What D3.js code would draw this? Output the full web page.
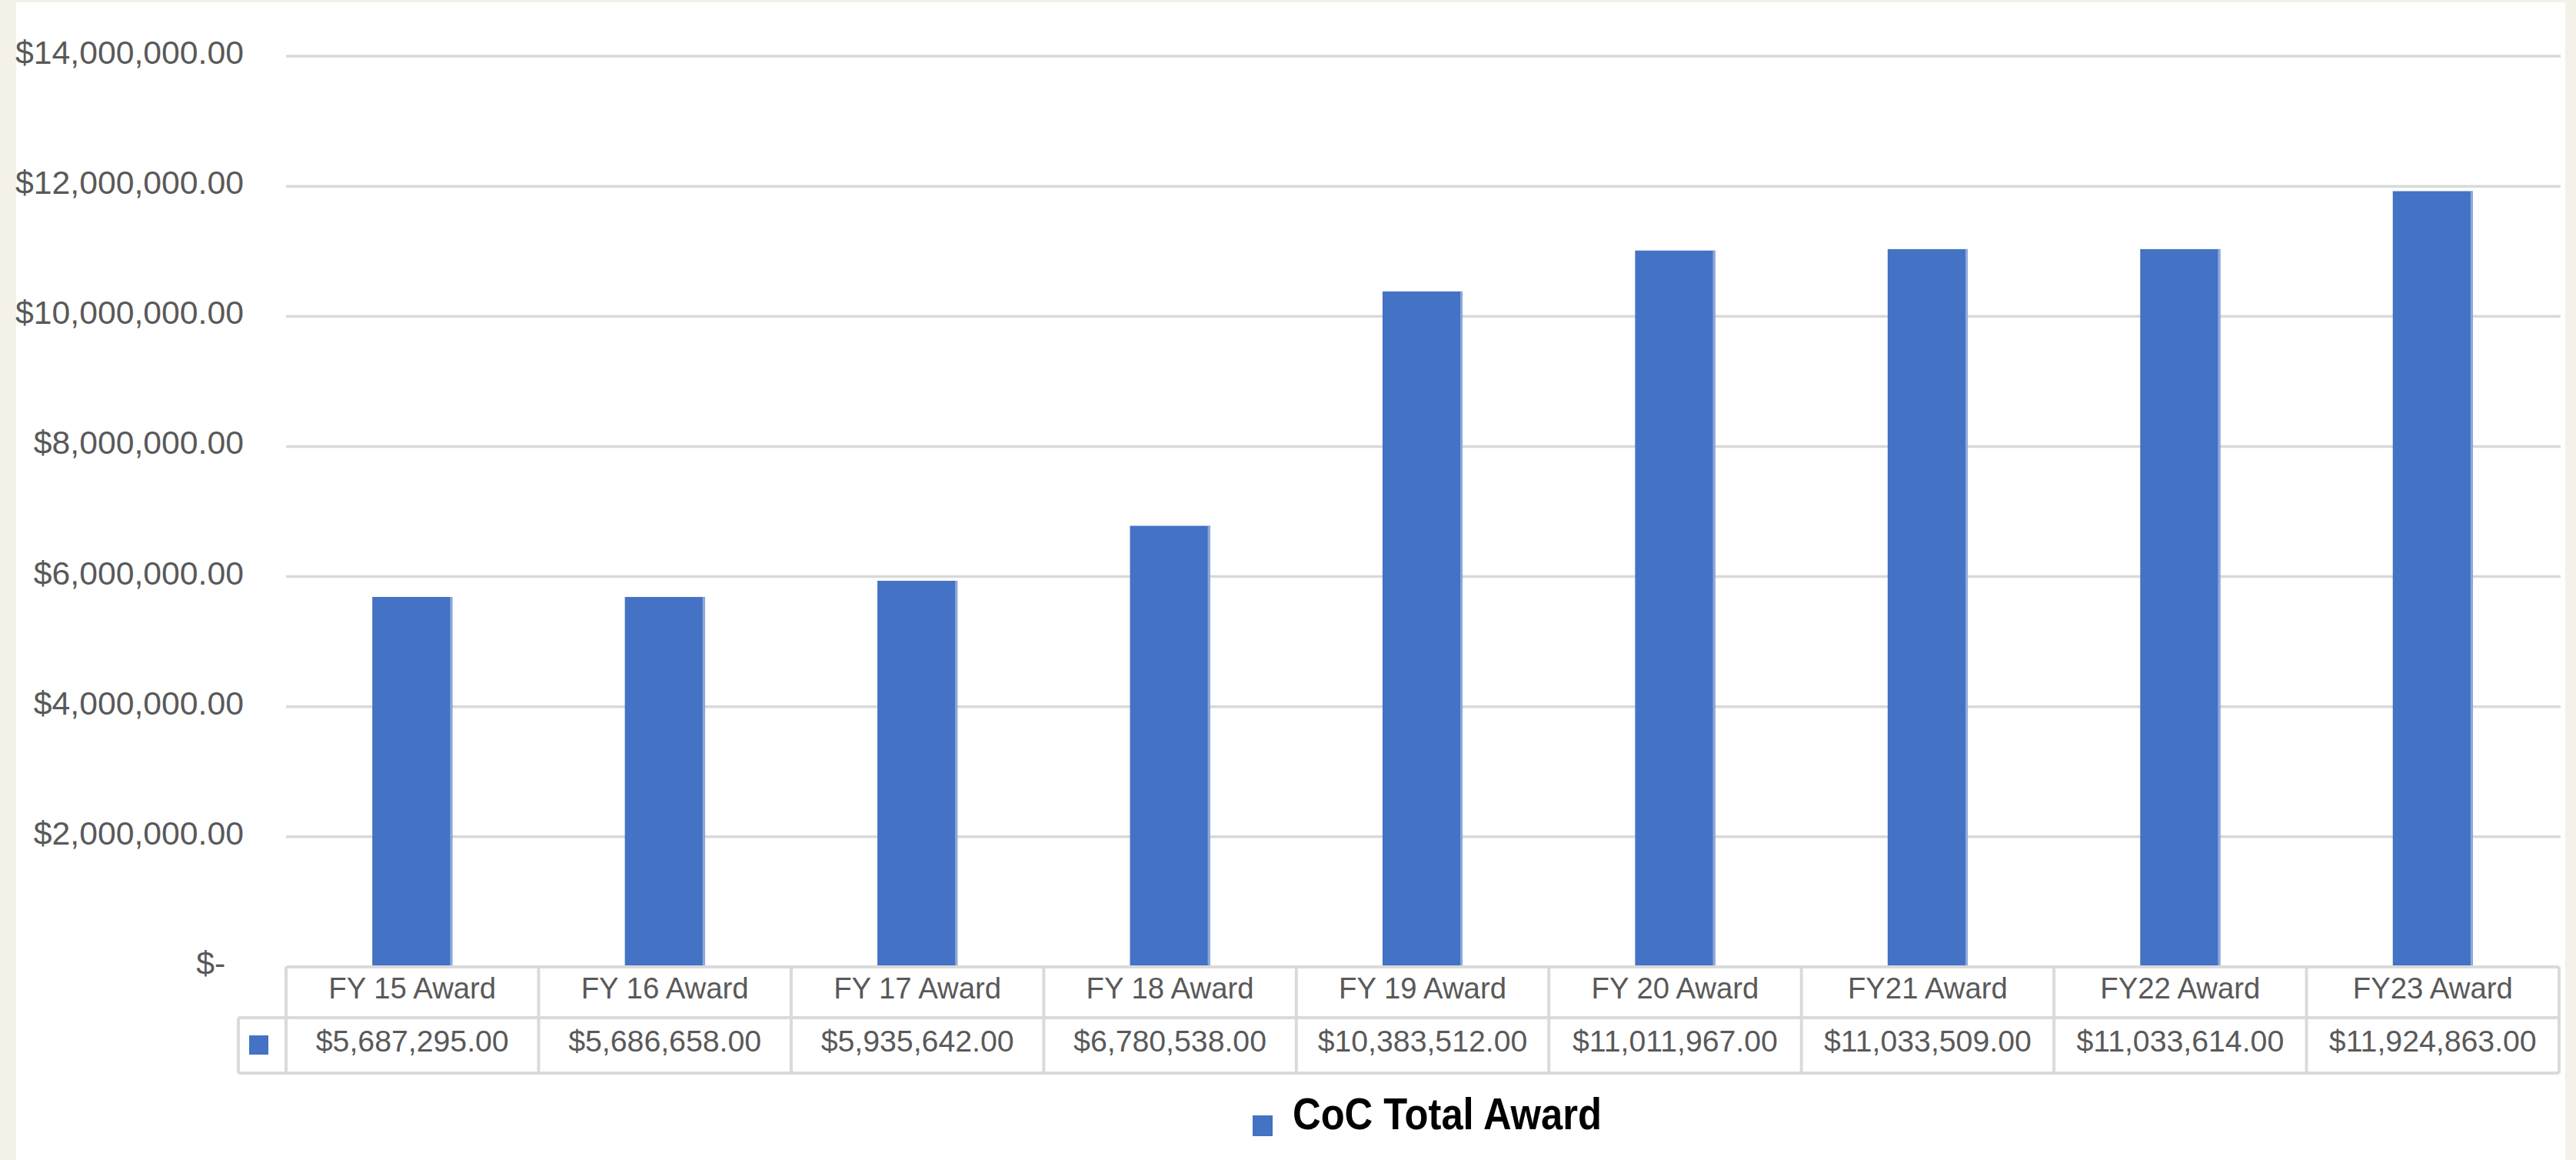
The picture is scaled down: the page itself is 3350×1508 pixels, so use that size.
<!DOCTYPE html>
<html>
<head>
<meta charset="utf-8">
<script src="https://cdn.jsdelivr.net/npm/d3@7"></script>
<style>
  html, body { margin: 0; padding: 0; background: #f4f1e9; }
  svg { display: block; }
  text { font-family: "Liberation Sans", Arial, sans-serif; }
</style>
</head>
<body>
<svg id="chart" width="3350" height="1508"></svg>
<script>
// ---- data ----
const categories = ["FY 15 Award", "FY 16 Award", "FY 17 Award", "FY 18 Award", "FY 19 Award",
                    "FY 20 Award", "FY21 Award", "FY22 Award", "FY23 Award"];
const awardValues = [5687295, 5686658, 5935642, 6780538, 10383512, 11011967, 11033509, 11033614, 11924863];
const seriesName = "CoC Total Award";
const yTicks = [0, 2000000, 4000000, 6000000, 8000000, 10000000, 12000000, 14000000];
const yTickLabels = ["$-  ", "$2,000,000.00", "$4,000,000.00", "$6,000,000.00", "$8,000,000.00",
                     "$10,000,000.00", "$12,000,000.00", "$14,000,000.00"];

// ---- layout ----
const W = 3350, H = 1508;
const plotLeft = 372, plotRight = 3328, plotTop = 73, plotBottom = 1257;
const tableRow1 = 1323, tableBottom = 1395, keyLeft = 310;
const barColor = "#4472c4";
const gridColor = "#d9d9d9";
const textColor = "#595959";

const svg = d3.select("#chart");

// helper: font size so that a sample string reaches a target width
function fitSize(sample, target, base, weight) {
  const t = svg.append("text").attr("font-size", base).attr("font-weight", weight || "normal").text(sample);
  const w = t.node().getComputedTextLength();
  t.remove();
  return w > 0 ? base * target / w : base;
}
const axisFont = fitSize("$14,000,000.00", 297, 40);
const headFont = fitSize("FY 15 Award", 218, 39);
const valFont = fitSize("$5,687,295.00", 251, 39);

// background panels
svg.append("rect").attr("x", 0).attr("y", 0).attr("width", W).attr("height", H).attr("fill", "#f4f1e9");
svg.append("rect").attr("x", 21).attr("y", 3).attr("width", 3315).attr("height", H - 3).attr("fill", "#ffffff");

const y = d3.scaleLinear().domain([0, 14000000]).range([plotBottom, plotTop]);
const xCol = d3.scaleBand().domain(categories).range([plotLeft, plotRight]).padding(0);
const xBar = d3.scaleBand().domain(categories).range([plotLeft, plotRight])
  .paddingInner(0.683).paddingOuter(0.3415);

// gridlines (excluding zero, which is the table top)
svg.append("g").selectAll("line").data(yTicks.filter(t => t > 0)).join("line")
  .attr("x1", plotLeft).attr("x2", 3330)
  .attr("y1", d => y(d)).attr("y2", d => y(d))
  .attr("stroke", gridColor).attr("stroke-width", 3.5);

// y-axis labels
svg.append("g").selectAll("text").data(yTicks).join("text")
  .attr("x", 317).attr("y", d => y(d) + 10)
  .attr("text-anchor", "end")
  .style("white-space", "pre")
  .attr("font-size", axisFont).attr("fill", textColor)
  .text((d, i) => yTickLabels[i]);

// bars
svg.append("g").selectAll("rect").data(awardValues).join("rect")
  .attr("x", (d, i) => xBar(categories[i]))
  .attr("y", d => y(d))
  .attr("width", xBar.bandwidth())
  .attr("height", d => y(0) - y(d))
  .attr("fill", barColor);
// subtle light edge on bars
svg.append("g").selectAll("rect").data(awardValues).join("rect")
  .attr("x", (d, i) => xBar(categories[i]) + xBar.bandwidth() - 3)
  .attr("y", d => y(d))
  .attr("width", 3)
  .attr("height", d => y(0) - y(d))
  .attr("fill", "#8eaadb");

// data table
const tbl = svg.append("g").attr("stroke", "#dadada").attr("stroke-width", 4);
tbl.append("line").attr("x1", plotLeft).attr("x2", plotRight).attr("y1", plotBottom).attr("y2", plotBottom);
tbl.append("line").attr("x1", keyLeft).attr("x2", plotRight).attr("y1", tableRow1).attr("y2", tableRow1);
tbl.append("line").attr("x1", keyLeft).attr("x2", plotRight).attr("y1", tableBottom).attr("y2", tableBottom);
tbl.append("line").attr("x1", keyLeft).attr("x2", keyLeft).attr("y1", tableRow1).attr("y2", tableBottom);
const colEdges = categories.map(c => xCol(c)).concat([plotRight]);
tbl.selectAll("line.v").data(colEdges).join("line").attr("class", "v")
  .attr("x1", d => d).attr("x2", d => d).attr("y1", plotBottom).attr("y2", tableBottom);

// header labels
svg.append("g").selectAll("text").data(categories).join("text")
  .attr("x", d => xCol(d) + xCol.bandwidth() / 2).attr("y", 1298)
  .attr("text-anchor", "middle").attr("font-size", headFont).attr("fill", textColor)
  .text(d => d);

// value labels
const fmt = v => "$" + d3.format(",.2f")(v);
svg.append("g").selectAll("text").data(awardValues).join("text")
  .attr("x", (d, i) => xCol(categories[i]) + xCol.bandwidth() / 2).attr("y", 1367)
  .attr("text-anchor", "middle").attr("font-size", valFont).attr("fill", textColor)
  .text(d => fmt(d));

// key in table
svg.append("rect").attr("x", 324).attr("y", 1346).attr("width", 25).attr("height", 25).attr("fill", barColor);

// legend
svg.append("rect").attr("x", 1629).attr("y", 1450).attr("width", 26).attr("height", 27).attr("fill", barColor);
svg.append("text").attr("x", 1681).attr("y", 1468)
  .attr("font-size", 57).attr("font-weight", "bold").attr("fill", "#000000")
  .attr("textLength", 402).attr("lengthAdjust", "spacingAndGlyphs")
  .text(seriesName);
</script>
</body>
</html>
